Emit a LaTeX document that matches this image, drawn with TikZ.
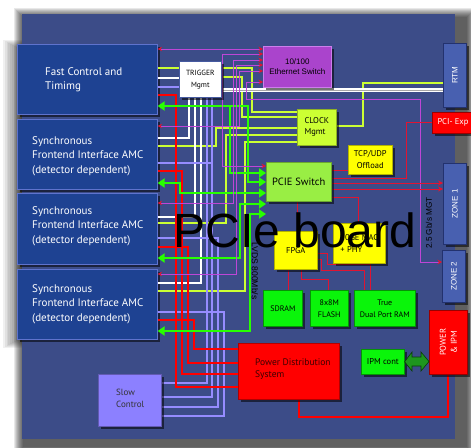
\documentclass[tikz,border=0pt]{standalone}
\usepackage{fontspec}
\setmainfont{PT Sans}
\newfontfamily\arialf{Liberation Sans}
\usetikzlibrary{arrows.meta,shadows}

\definecolor{boardblue}{RGB}{60,76,136}
\definecolor{amcblue}{RGB}{30,66,146}
\definecolor{amcedge}{RGB}{95,115,205}
\definecolor{trigedge}{RGB}{70,90,160}
\definecolor{ethpurple}{RGB}{170,68,204}
\definecolor{ethedge}{RGB}{205,125,235}
\definecolor{zoneblue}{RGB}{72,96,176}
\definecolor{zoneedge}{RGB}{35,50,110}
\definecolor{clkyg}{RGB}{204,255,51}
\definecolor{ylw}{RGB}{255,255,0}
\definecolor{pswgreen}{RGB}{153,238,68}
\definecolor{brgreen}{RGB}{10,245,10}
\definecolor{pwrred}{RGB}{255,0,0}
\definecolor{slowlav}{RGB}{140,128,255}
\definecolor{lyg}{RGB}{204,255,51}
\definecolor{llav}{RGB}{150,140,255}
\definecolor{lgreen}{RGB}{40,255,0}
\definecolor{lmag}{RGB}{190,70,215}
\definecolor{tred}{RGB}{225,20,50}
\definecolor{darktext}{RGB}{60,0,0}
\definecolor{ipmarrow}{RGB}{30,150,30}
\definecolor{ipmedge}{RGB}{10,60,10}

\tikzset{
  mtip/.tip={Stealth[length=4.5pt,width=4.5pt,color=tred]},
  gtip/.tip={Triangle[length=7pt,width=9pt]},
  rtip/.tip={Stealth[length=5pt,width=5pt]},
  shadowed/.style={drop shadow={shadow xshift=3pt,shadow yshift=-3pt,opacity=0.55,fill=black}},
  bx/.style={draw, line width=0.6pt, inner sep=0pt, anchor=north west, shadowed},
  amc/.style={bx, fill=amcblue, draw=amcedge},
  amctext/.style={text=white, align=left, anchor=west, inner sep=0pt, font=\fontsize{11}{14.5}\selectfont},
  smalltext/.style={align=center, inner sep=0pt, font=\fontsize{8}{11}\selectfont},
  ygl/.style={draw=lyg, line width=2.7pt},
  whl/.style={draw=white, line width=2.7pt},
  wdl/.style={draw=white, line width=1.3pt, double=gray!70, double distance=0.5pt},
  lavl/.style={draw=llav, line width=2.5pt},
  redl/.style={draw=red, line width=2.9pt},
  grl/.style={draw=lgreen, line width=2.7pt},
  mgl/.style={draw=lmag, line width=1pt},
  trl/.style={draw=tred, line width=0.9pt},
}

\begin{document}
\begin{tikzpicture}[x=1pt,y=-1pt]
\useasboundingbox (0,0) rectangle (471,447);
\fill[white] (0,0) rectangle (471,447);
% board shadow
\foreach \i in {0,...,9} {\fill[black,opacity=0.09] (14+\i,8+\i) rectangle (476-\i,456-\i);}
\foreach \i in {0,...,7} {\fill[black,opacity=0.06] (3+1.8*\i,40+\i) rectangle (160,348-\i);}
% board
\fill[boardblue] (22,14) rectangle (455,439);

% ---------- nodes (boxes) ----------
\node[amc, minimum width=140, minimum height=70] (fc) at (17,44) {};
\node[amc, minimum width=140, minimum height=70] (s1) at (17,119) {};
\node[amc, minimum width=140, minimum height=71] (s2) at (17,193) {};
\node[amc, minimum width=140, minimum height=70] (s3) at (17,269) {};

% ---------- thick lines ----------
% yellow-green (clock)
\draw[ygl] ([yshift=-24]fc.north east) -- (252,68) |- (297,112);
\draw[ygl] (221,77) -| (242,117) -- (297,117);
\draw[ygl] ([yshift=-27]s1.north east) -- (216,146) |- (297,128);
\draw[ygl] ([yshift=-30]s2.north east) -- (226,223) |- (297,135);
\draw[ygl] ([yshift=-22]s3.north east) -- (245,291) |- (297,142);
\draw[ygl] (336,126) -- (363,126) |- (443,83);
% white (trigger)
\draw[whl] ([yshift=-34]fc.north east) -- (179,78);
\draw[whl] ([yshift=-19]s1.north east) -| (189,97);
\draw[whl] ([yshift=-24]s2.north east) -| (195,97);
\draw[whl] ([yshift=-14]s3.north east) -| (201,97);
\draw[wdl] (221,90) -- (443,90);
% lavender (slow control)
\draw[lavl] ([yshift=-43]fc.north east) -- (179,87);
\draw[lavl] (207,97) |- (161,383);
\draw[lavl] (212,97) |- (161,397);
\draw[lavl] ([yshift=-44]s1.north east) -- (212,163);
\draw[lavl] ([yshift=-45]s2.north east) -| (218,407) -- (161,407);
\draw[lavl] ([yshift=-43]s3.north east) -| (224,416) -- (161,416);
% red (power)
\draw[redl] ([yshift=-51]fc.north east) -- (176,95) |- (238,387);
\draw[redl] ([yshift=-52]s1.north east) -- (182,171) |- (238,374);
\draw[redl] ([yshift=-54]s2.north east) -- (188,247) |- (238,363);
\draw[redl] ([yshift=-51]s3.north east) -- (194,320) |- (238,349);
\draw[redl] (299,399) -- (299,417) -| (448,374);
% green (PCIe)
\draw[grl,{gtip}-{gtip}] ([yshift=-62]fc.north east) -- (248,106) |- (266,182);
\draw[grl,-{gtip}] (230,106) |- (266,173);
\draw[grl,{gtip}-{gtip}] ([yshift=-64]s1.north east) -- (180,183) |- (266,193);
\draw[grl,{gtip}-{gtip}] ([yshift=-65]s2.north east) -- (240,258) |- (266,204);
\draw[grl,{gtip}-{gtip}] ([yshift=-62]s3.north east) -- (250,331) |- (266,214);
% magenta (ethernet)
\draw[mgl,{mtip}-{mtip}] ([yshift=-5]fc.north east) -- (263,49);
\draw[mgl,{mtip}-{mtip}] (263,54) -| (222,166) -- (266,166);
\draw[mgl,{mtip}-{mtip}] ([yshift=-10]s2.north east) -| (233,60) -- (263,60);
\draw[mgl,{mtip}-{mtip}] ([yshift=-5]s3.north east) -| (236,65) -- (263,65);
\draw[mgl,{mtip}-{mtip}] ([yshift=-7]s1.north east) -| (239,71) -- (263,71);
\draw[mgl,{mtip}-{mtip}] (263,82) -| (246,99) -| (420,262) -- (442,262);
% thin red
\draw[trl] (331,170) -- (348,170);
\draw[trl] (331,178) -| (406,122) -- (432,122);
\draw[trl,-{rtip}] (331,183) -- (443,183);
\draw[trl,-{rtip}] (331,189) -- (443,189);
\draw[trl] (297,201) -- (297,231);
\draw[trl] (331,197) -| (358,223);
\draw[trl] (288,269) -- (288,290);
\draw[trl] (301,269) |- (328,279) -- (328,290);
\draw[trl] (317,253) -| (327,264) -| (370,290);
\draw[trl] (317,259) -| (321,270) -| (364,290);

% ---------- boxes ----------
\node[bx, fill=white, draw=trigedge, minimum width=42, minimum height=36] (trig) at (179,61) {};
\node[bx, fill=ethpurple, draw=ethedge, minimum width=68, minimum height=41] (eth) at (263,46) {};
\node[bx, fill=zoneblue, draw=zoneedge, minimum width=23, minimum height=64] (rtm) at (443,43) {};
\node[bx, fill=clkyg, draw=clkyg!70!black, minimum width=39, minimum height=36] (clk) at (297,109) {};
\node[bx, fill=pwrred, draw=pwrred!60!black, minimum width=46, minimum height=21] (pci) at (432,112) {};
\node[bx, fill=ylw, draw=ylw!70!black, minimum width=44, minimum height=29] (tcp) at (348,145) {};
\node[bx, fill=pswgreen, draw=pswgreen!70!black, minimum width=65, minimum height=39] (psw) at (266,162) {};
\node[bx, fill=zoneblue, draw=zoneedge, minimum width=23, minimum height=81] (zone1) at (443,163) {};
\node[bx, fill=zoneblue, draw=zoneedge, minimum width=23, minimum height=52] (zone2) at (442,250) {};
\node[bx, fill=ylw, draw=ylw!70!black, minimum width=43, minimum height=38] (fpga) at (274,231) {};
\node[bx, fill=ylw, draw=ylw!70!black, minimum width=52, minimum height=40] (ge) at (333,223) {};
\node[bx, fill=brgreen, draw=brgreen!60!black, minimum width=39, minimum height=36] (sdram) at (263,290) {};
\node[bx, fill=brgreen, draw=brgreen!60!black, minimum width=38, minimum height=36] (flash) at (310,290) {};
\node[bx, fill=brgreen, draw=brgreen!60!black, minimum width=61, minimum height=36] (dpram) at (354,290) {};
\node[bx, fill=pwrred, draw=pwrred!70!black, minimum width=101, minimum height=56] (pds) at (238,343) {};
\node[bx, fill=brgreen, draw=brgreen!60!black, minimum width=43, minimum height=25] (ipm) at (361,349) {};
\node[bx, fill=pwrred, draw=pwrred!60!black, minimum width=38, minimum height=64] (pwr) at (429,310) {};
\node[bx, fill=slowlav, draw=slowlav!70!black, minimum width=63, minimum height=52] (slow) at (98,374) {};

% IPM double arrow
\draw[fill=ipmarrow, draw=ipmedge, line width=0.6pt] (ipm.east) -- (412,352) -- (412,357) -- (421,357) -- (421,352) -- (429,361.5) -- (421,371) -- (421,366) -- (412,366) -- (412,371) -- cycle;

% ---------- texts ----------
\node[amctext] (fct) at (45,79.5) {Fast Control and\\Timimg};
\node[amctext] (s1t) at (32,156) {Synchronous\\Frontend Interface AMC\\(detector dependent)};
\node[amctext] (s2t) at (32,226) {Synchronous\\Frontend Interface AMC\\(detector dependent)};
\node[amctext] (s3t) at (32,304) {Synchronous\\Frontend Interface AMC\\(detector dependent)};

\node[smalltext, font=\fontsize{7.5}{12}\selectfont] (trigt) at (trig.center) {TRIGGER\\Mgmt};
\node[smalltext, font=\arialf\fontsize{8}{10.5}\selectfont] (etht) at (eth.center) {10/100\\Ethernet Switch};
\node[smalltext, rotate=90, text=white, font=\arialf\fontsize{8}{10}\selectfont] (rtmt) at (rtm.center) {RTM};
\node[smalltext, align=left, font=\fontsize{8.5}{11}\selectfont] (clkt) at (clk.center) {CLOCK\\Mgmt};
\node[smalltext, text=white, font=\fontsize{8.5}{10}\selectfont] (pcit) at (453,122.5) {PCI- Exp};
\node[smalltext, font=\fontsize{8.5}{12}\selectfont] (tcpt) at (tcp.center) {TCP/UDP\\Offload};
\node[smalltext, font=\fontsize{10.5}{12}\selectfont] (pswt) at (psw.center) {PCIE Switch};
\node[smalltext, rotate=90, text=white, font=\arialf\fontsize{8}{10}\selectfont] (z1t) at (zone1.center) {ZONE 1};
\node[smalltext, rotate=90, text=white, font=\arialf\fontsize{8}{10}\selectfont] (z2t) at (zone2.center) {ZONE 2};
\node[smalltext, font=\fontsize{8.5}{12}\selectfont] (fpgat) at (fpga.center) {FPGA};
\node[smalltext, align=left, font=\fontsize{8.5}{12}\selectfont] (get) at (ge.center) {10GE MAC\\+ PHY};
\node[smalltext, font=\fontsize{8}{12}\selectfont] (sdramt) at (sdram.center) {SDRAM};
\node[smalltext, font=\fontsize{8}{12}\selectfont] (flasht) at (flash.center) {8x8M\\FLASH};
\node[smalltext, font=\fontsize{8}{12}\selectfont] (dpramt) at (dpram.center) {True\\Dual Port RAM};
\node[smalltext, align=left, anchor=west, text=darktext, font=\fontsize{9.5}{12}\selectfont] (pdst) at (255,369) {Power Distribution\\System};
\node[smalltext, font=\fontsize{8.5}{12}\selectfont] (ipmt) at (ipm.center) {IPM cont};
\node[smalltext, rotate=90, text=white, font=\fontsize{8.5}{11}\selectfont] (pwrt) at (pwr.center) {POWER\\\& IPM};
\node[smalltext, align=left, anchor=west, text=black!80, font=\fontsize{9}{12}\selectfont] (slowt) at (116,398) {Slow\\Control};

\node[rotate=-90, inner sep=0pt, text=black, font=\arialf\fontsize{8.6}{10}\selectfont] (lvds) at (255,271) {LVDS 800Mb/s};
\node[rotate=90, inner sep=0pt, text=black, font=\arialf\fontsize{8.2}{10}\selectfont] (mgt) at (429,223) {2.5 Gb/s MGT};

\node[anchor=base, inner sep=0pt, font=\arialf\fontsize{48}{48}\selectfont] (title) at (295,247) {PCIe board};
\end{tikzpicture}
\end{document}
